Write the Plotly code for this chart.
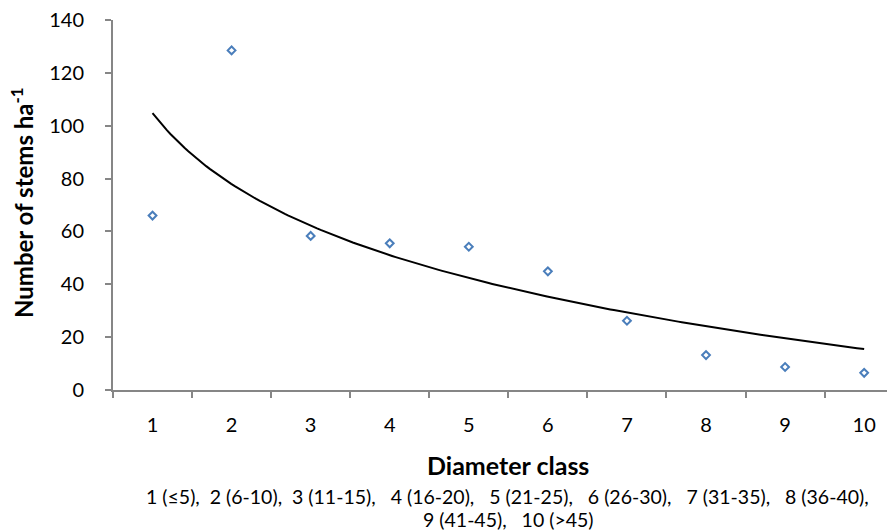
import numpy as np
import plotly.graph_objects as go

classes = [1, 2, 3, 4, 5, 6, 7, 8, 9, 10]
stems = [66.0, 128.5, 58.3, 55.5, 54.2, 44.9, 26.2, 13.2, 8.7, 6.5]
y_ticks = [0, 20, 40, 60, 80, 100, 120, 140]
x_title = "Diameter class"
y_title = "Number of stems ha<sup>-1</sup>"
note_lines = ["1 (≤5),  2 (6-10),  3 (11-15),   4 (16-20),   5 (21-25),   6 (26-30),   7 (31-35),   8 (36-40),",
              "9 (41-45),   10 (>45)"]

# logarithmic trend line (least squares fit y = a + b ln x)
b, a = np.polyfit(np.log(classes), stems, 1)
xs = np.linspace(classes[0], classes[-1], 200)
ys = a + b * np.log(xs)

axis_col = "#868686"
font_fam = "Lato, Open Sans"
fig = go.Figure()
fig.add_trace(go.Scatter(x=xs, y=ys, mode="lines", line=dict(color="black", width=2), hoverinfo="skip"))
fig.add_trace(go.Scatter(x=classes, y=stems, mode="markers",
                         marker=dict(symbol="diamond-open", size=6, color="#4a7ebb", line=dict(width=2, color="#4a7ebb"))))

# page body has an 8px margin, so the figure is sized to fit the 895x531 window
W, H = 887, 523
L, T, B = 105, 12, 141
fig.update_layout(
    width=W, height=H, showlegend=False,
    paper_bgcolor="white", plot_bgcolor="white",
    margin=dict(l=L, r=0, t=T, b=B),
    font=dict(family=font_fam, size=20, color="black"),
)
fig.update_xaxes(range=[0.5, 10.39], tickvals=classes, ticktext=[str(c) for c in classes],
                 ticks="", showgrid=False, zeroline=False,
                 showline=True, linecolor=axis_col, linewidth=2,
                 minor=dict(ticks="outside", tick0=0.5, dtick=1, ticklen=6, tickcolor=axis_col, tickwidth=2, showgrid=False),
                 tickfont=dict(size=20), ticklabelstandoff=16)
fig.update_yaxes(range=[0, 140], tickvals=y_ticks, showgrid=False, zeroline=False,
                 showline=True, linecolor=axis_col, linewidth=2,
                 ticks="outside", ticklen=6, tickcolor=axis_col, tickwidth=2,
                 tickfont=dict(size=20), ticklabelstandoff=17, ticklabeloverflow="allow")

pw = W - L          # plot width (782)
ph = H - T - B      # plot height (370)
bottom_ref = 390    # axis y in reference pixels
left_ref = 113

def px(xr):
    return (xr - left_ref) / pw

def py(yr):
    return (bottom_ref - yr) / ph

fig.add_annotation(text="<b>" + x_title + "</b>", xref="paper", yref="paper", x=px(508), y=py(465),
                   showarrow=False, font=dict(family=font_fam, size=25), xanchor="center", yanchor="middle")
fig.add_annotation(text="<b>" + y_title + "</b>", xref="paper", yref="paper", x=px(22), y=py(203),
                   showarrow=False, textangle=-90, font=dict(family=font_fam, size=24), xanchor="center", yanchor="middle")
fig.add_annotation(text=note_lines[0], xref="paper", yref="paper", x=px(507), y=py(496),
                   showarrow=False, font=dict(family=font_fam, size=19.5), xanchor="center", yanchor="middle")
fig.add_annotation(text=note_lines[1], xref="paper", yref="paper", x=px(508), y=py(519),
                   showarrow=False, font=dict(family=font_fam, size=19.5), xanchor="center", yanchor="middle")

fig.write_html("out.html")
